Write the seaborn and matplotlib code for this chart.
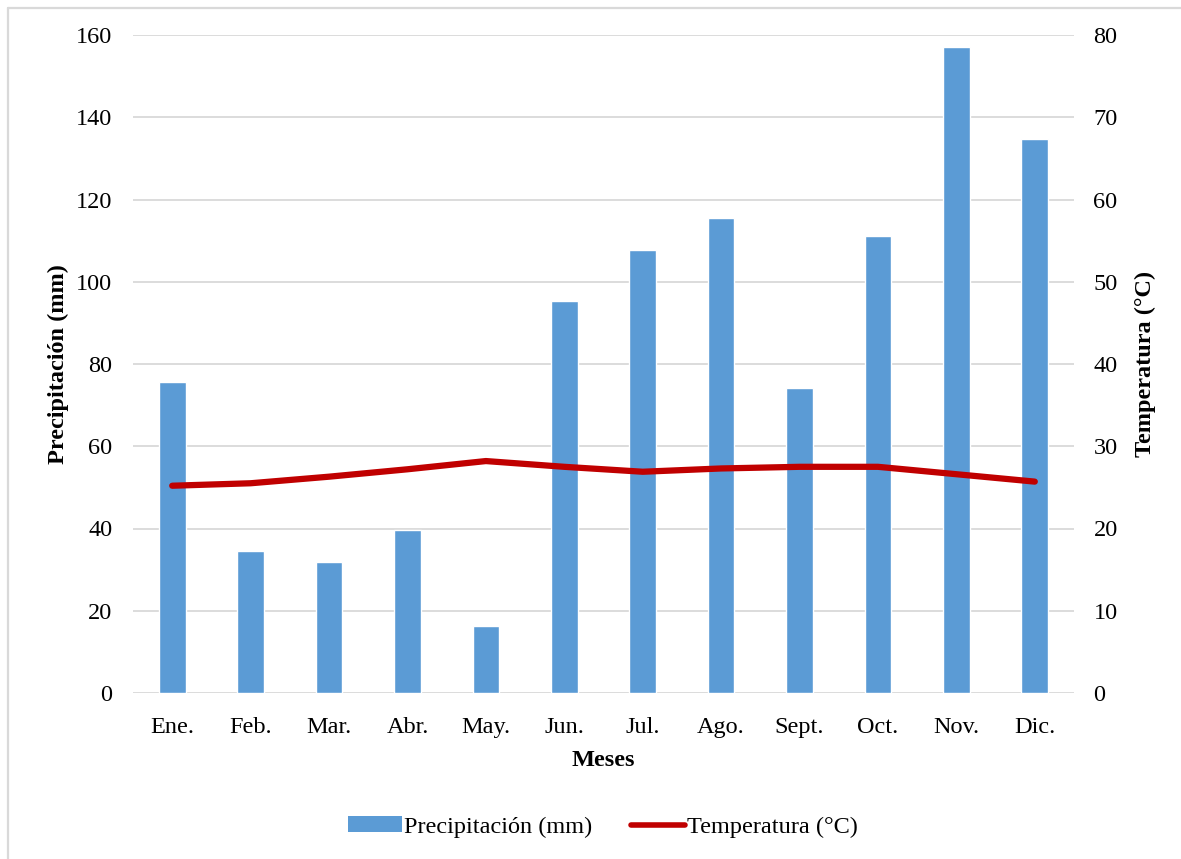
import matplotlib
matplotlib.use("Agg")
import matplotlib.pyplot as plt
import seaborn as sns
import pandas as pd
from matplotlib.lines import Line2D
from matplotlib.patches import Patch

months = ["Ene.", "Feb.", "Mar.", "Abr.", "May.", "Jun.", "Jul.", "Ago.", "Sept.", "Oct.", "Nov.", "Dic."]
precip = [75.6, 34.5, 31.9, 39.7, 16.3, 95.3, 107.7, 115.5, 74.2, 111.1, 157.0, 134.6]
temp = [25.2, 25.5, 26.3, 27.2, 28.2, 27.5, 26.9, 27.3, 27.5, 27.5, 26.6, 25.7]
left_ticks = [0, 20, 40, 60, 80, 100, 120, 140, 160]
right_ticks = [0, 10, 20, 30, 40, 50, 60, 70, 80]

sns.set_theme(style="white")
plt.rcParams['font.family'] = ['Liberation Serif', 'DejaVu Serif']
plt.rcParams['text.color'] = 'black'
plt.rcParams['axes.labelcolor'] = 'black'
FS = 17.5

df = pd.DataFrame({"Mes": months, "Precipitación": precip, "Temperatura": temp})

W, H = 1181, 859
fig = plt.figure(figsize=(W / 100, H / 100), dpi=100)
ax = fig.add_axes([133 / W, (H - 693) / H, (1074 - 133) / W, (693 - 35) / H])

sns.barplot(data=df, x="Mes", y="Precipitación", color="#5B9BD5", saturation=1,
            width=0.34, ax=ax, zorder=2)
ax.set_ylim(0, 160)
ax.set_yticks(left_ticks)
ax.set_xlim(-0.5, 11.5)
ax.grid(axis="y", color="#d9d9d9", lw=1.3, zorder=0)
ax.set_axisbelow(True)
for s in ax.spines.values():
    s.set_visible(False)
ax.tick_params(axis="both", length=0, labelsize=FS, colors="black")
ax.tick_params(axis="y", pad=15)
ax.tick_params(axis="x", pad=17)
ax.set_xlabel("Meses", fontsize=FS, fontweight="bold", labelpad=9, color="black")
ax.set_ylabel("Precipitación (mm)", fontsize=FS, fontweight="bold", labelpad=5, color="black")

ax2 = ax.twinx()
sns.lineplot(data=df, x="Mes", y="Temperatura", sort=False, color="#C00000", lw=4.5,
             ax=ax2, solid_capstyle="round", solid_joinstyle="round", zorder=3)
ax2.set_ylim(0, 80)
ax2.set_yticks(right_ticks)
for s in ax2.spines.values():
    s.set_visible(False)
ax2.tick_params(axis="y", length=0, labelsize=FS, pad=14, colors="black")
ax2.set_ylabel("Temperatura (°C)", fontsize=FS, fontweight="bold", rotation=90,
               labelpad=12, color="black")
ax2.grid(False)

handles = [Patch(facecolor="#5B9BD5", edgecolor="none"),
           Line2D([0], [0], color="#C00000", lw=4)]
fig.legend(handles, ["Precipitación (mm)", "Temperatura (°C)"], loc="center",
           bbox_to_anchor=(603 / W, 1 - 827 / H), ncol=2, frameon=False,
           fontsize=FS, handlelength=2.2, handletextpad=0.1, columnspacing=1.6,
           handleheight=0.6, labelcolor="black")

# chart border (partially cropped)
fig.add_artist(Line2D([7.5 / W, 7.5 / W], [0, 1 - 7.5 / H], color="#d9d9d9", lw=1.6,
                      transform=fig.transFigure))
fig.add_artist(Line2D([7.5 / W, 1], [1 - 7.5 / H, 1 - 7.5 / H], color="#d9d9d9", lw=1.6,
                      transform=fig.transFigure))

fig.savefig("out.png", dpi=100)
